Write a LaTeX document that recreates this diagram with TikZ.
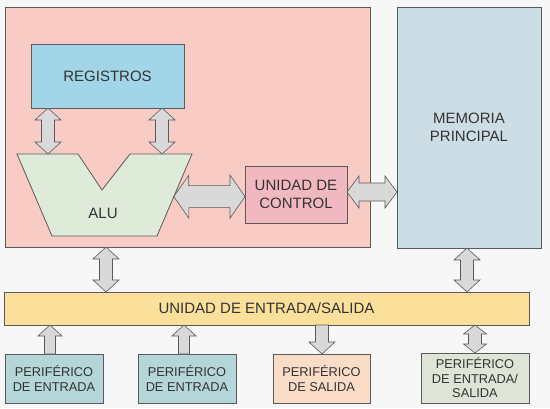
\documentclass[tikz,border=0pt]{standalone}
\usepackage{fontspec}
\setmainfont{Liberation Sans}
\usetikzlibrary{calc}
\definecolor{paperGrey}{HTML}{F7F7F7}
\definecolor{edgeGrey}{HTML}{5A5A5A}
\definecolor{inkGrey}{HTML}{333333}
\definecolor{arrowGrey}{HTML}{D9D9D9}
\definecolor{cpuPink}{HTML}{F8CBC5}
\definecolor{memBlue}{HTML}{CDDDE6}
\definecolor{regBlue}{HTML}{A2D5E7}
\definecolor{aluGreen}{HTML}{DEEBD8}
\definecolor{ctrlPink}{HTML}{F2B8BF}
\definecolor{ioYellow}{HTML}{FAE09B}
\definecolor{perTeal}{HTML}{B4D6D9}
\definecolor{perPeach}{HTML}{FBDCC6}
\definecolor{perSage}{HTML}{DEE5D6}

\tikzset{
  unitbox/.style={draw=edgeGrey, line width=0.8pt, inner sep=0pt, outer sep=0pt,
    anchor=north west, align=center, text=inkGrey, font=\fontsize{15}{17.5}\selectfont},
  perbox/.style={unitbox, font=\fontsize{12.8}{14.5}\selectfont},
  fatboth/.style n args={3}{draw=edgeGrey, fill=arrowGrey, line width=0.6pt,
    to path={let \p1=(\tikztostart), \p2=(\tikztotarget),
      \n1={atan2(\y2-\y1,\x2-\x1)}, \n2={veclen(\x2-\x1,\y2-\y1)} in
      {[shift={(\p1)}, rotate=\n1]
      (0pt,0pt) -- (#3pt,#1pt) -- (#3pt,#2pt) -- (\n2-#3pt,#2pt) -- (\n2-#3pt,#1pt)
      -- (\n2,0pt) -- (\n2-#3pt,-#1pt) -- (\n2-#3pt,-#2pt) -- (#3pt,-#2pt)
      -- (#3pt,-#1pt) -- cycle}}},
  fatone/.style n args={3}{draw=edgeGrey, fill=arrowGrey, line width=0.6pt,
    to path={let \p1=(\tikztostart), \p2=(\tikztotarget),
      \n1={atan2(\y2-\y1,\x2-\x1)}, \n2={veclen(\x2-\x1,\y2-\y1)} in
      {[shift={(\p1)}, rotate=\n1]
      (0pt,#2pt) -- (\n2-#3pt,#2pt) -- (\n2-#3pt,#1pt) -- (\n2,0pt)
      -- (\n2-#3pt,-#1pt) -- (\n2-#3pt,-#2pt) -- (0pt,-#2pt) -- cycle}}},
}

\begin{document}
\begin{tikzpicture}[x=1pt, y=-1pt]
  \fill[paperGrey] (0,0) rectangle (550,408);
  \useasboundingbox (0,0) rectangle (550,408);

  \node[unitbox, fill=cpuPink, minimum width=365pt, minimum height=240pt] (cpu) at (5,7) {};
  \node[unitbox, fill=memBlue, minimum width=144pt, minimum height=241pt] (mem) at (397,7) {MEMORIA\\PRINCIPAL};
  \node[unitbox, fill=regBlue, minimum width=153pt, minimum height=64pt] (reg) at (31,44) {REGISTROS};
  \node[unitbox, fill=ctrlPink, minimum width=102pt, minimum height=57pt] (ctrl) at (245,166) {UNIDAD DE\\CONTROL};

  \draw[draw=edgeGrey, fill=aluGreen, line width=0.8pt]
    (17,154) coordinate (aluTL) -- (78,154) -- (102,190) -- (130,154) -- (192,154) coordinate (aluTR)
    -- (157,236) coordinate (aluBR) -- (52,236) -- cycle;
  \node[text=inkGrey, font=\fontsize{15}{17.5}\selectfont] (alu) at (103,213) {ALU};

  \node[unitbox, fill=ioYellow, minimum width=525pt, minimum height=33pt] (io) at (4,292) {UNIDAD DE ENTRADA/SALIDA};

  \foreach \nm/\px/\py/\w/\h/\col/\txt in {%
    p1/5/354/98/49/perTeal/{PERIFÉRICO\\DE ENTRADA},
    p2/138/354/98/49/perTeal/{PERIFÉRICO\\DE ENTRADA},
    p3/273/354/97/49/perPeach/{PERIFÉRICO\\DE SALIDA},
    p4/421/353/108/50/perSage/{PERIFÉRICO\\DE ENTRADA/\\SALIDA}}{%
    \node[perbox, fill=\col, minimum width=\w pt, minimum height=\h pt] (\nm) at (\px,\py) {\txt};
  }

  \coordinate (ra) at (48,0);
  \coordinate (rb) at (162,0);
  \draw[fatboth={13}{6.5}{12}] (reg.south -| ra) to (aluTL -| ra);
  \draw[fatboth={13}{6.5}{12}] (reg.south -| rb) to (aluTL -| rb);
  \draw[fatboth={21.5}{11}{15}] ($(aluTR)!0.52!(aluBR)$) to (ctrl.west |- 0,196.6);
  \draw[fatboth={16}{9}{12}] (ctrl.east |- 0,192) to (mem.west |- 0,192);
  \draw[fatboth={13}{6.5}{12}] (cpu.south -| 106,0) to (io.north -| 106,0);
  \draw[fatboth={13}{6.5}{12}] (mem.south -| 467,0) to (io.north -| 467,0);

  \draw[fatone={12}{5.5}{11}] ([xshift=-4pt]p1.north) to (io.south -| 50,0);
  \draw[fatone={12}{5.5}{11}] ([xshift=-3pt]p2.north) to (io.south -| 184,0);
  \draw[fatone={13}{6.5}{12}] (io.south -| 322,0) to (p3.north -| 322,0);
  \draw[fatboth={11.5}{6.5}{9}] (io.south -| 475,0) to (p4.north);
\end{tikzpicture}
\end{document}
